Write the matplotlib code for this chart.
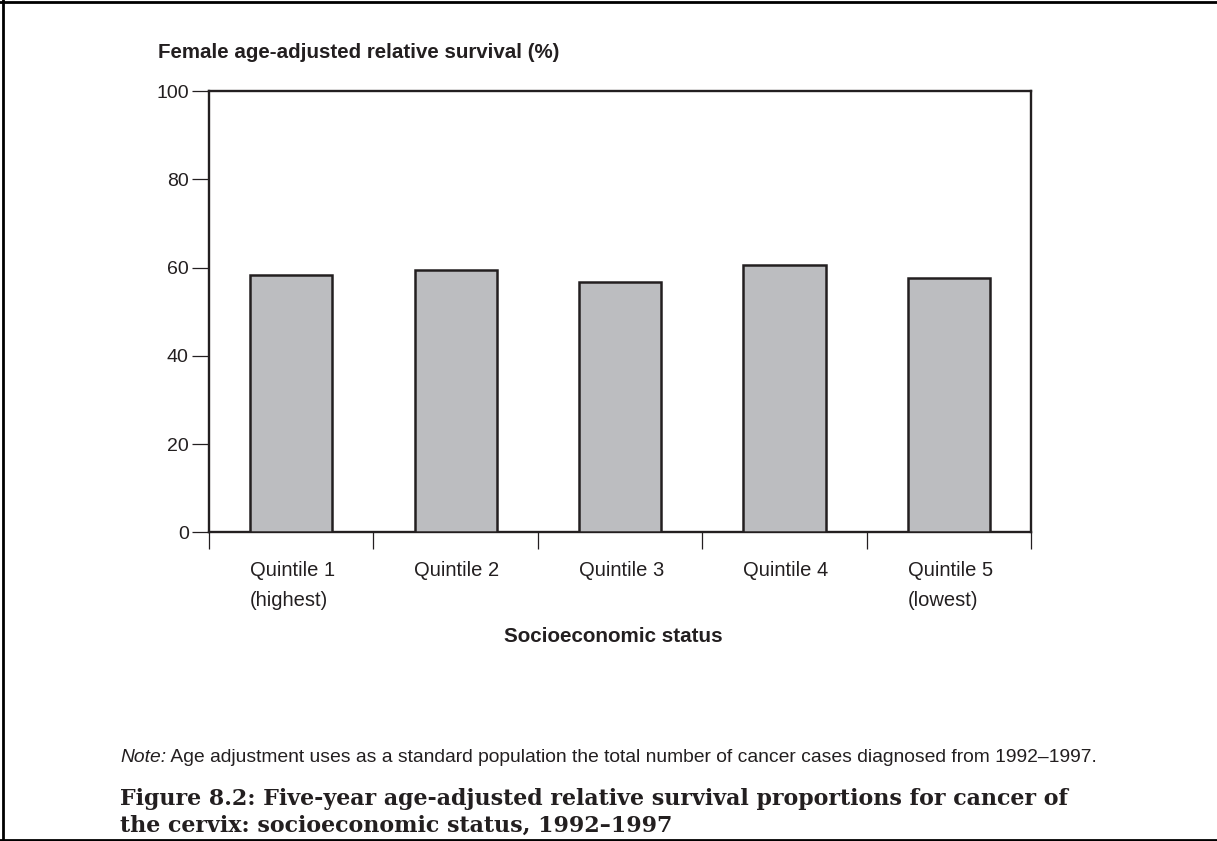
import matplotlib
matplotlib.use("Agg")
import matplotlib.pyplot as plt
from matplotlib.lines import Line2D

plt.rcParams['font.family'] = ['Liberation Sans', 'DejaVu Sans']

categories = ["Quintile 1\n(highest)", "Quintile 2", "Quintile 3", "Quintile 4", "Quintile 5\n(lowest)"]
values = [58.3, 59.4, 56.8, 60.5, 57.7]
yticks = [0, 20, 40, 60, 80, 100]

ylabel = "Female age-adjusted relative survival (%)"
xlabel = "Socioeconomic status"
note_lead = "Note:"
note_rest = " Age adjustment uses as a standard population the total number of cancer cases diagnosed from 1992\u20131997."
title = ("Figure 8.2: Five-year age-adjusted relative survival proportions for cancer of\n"
         "the cervix: socioeconomic status, 1992\u20131997")

W, H = 1217, 841
fig = plt.figure(figsize=(W / 100, H / 100), dpi=100)
dark = "#231f20"

ax = fig.add_axes([209 / W, 1 - 532.3 / H, (1031 - 209) / W, (532.3 - 91) / H])
bw = 0.5
xs = list(range(len(values)))
ax.bar(xs, values, width=bw, color="#bcbdc0", edgecolor=dark, linewidth=1.8, zorder=3)

ax.set_xlim(-0.5, len(values) - 0.5)
ax.set_ylim(0, 100)
for s in ax.spines.values():
    s.set_color(dark)
    s.set_linewidth(1.7)

ax.set_yticks(yticks)
ax.set_yticklabels([str(v) for v in yticks], fontsize=14, color=dark)
ax.tick_params(axis='y', length=12, width=0.9, color=dark, pad=2.5)

# category labels left-aligned at bar left edges
ax.set_xticks([x - bw / 2 for x in xs])
ax.set_xticklabels(categories, fontsize=14.5, color=dark, ha='left', linespacing=1.75)
ax.tick_params(axis='x', which='major', length=0, pad=20.5)
ax.set_xticks([x - 0.5 for x in xs] + [len(values) - 0.5], minor=True)
ax.tick_params(axis='x', which='minor', length=12, width=0.9, color=dark, direction='out')

fig.text(158 / W, 1 - 52.5 / H, ylabel, fontsize=14.8, fontweight='bold', color=dark,
         ha='left', va='center')
fig.text(613 / W, 1 - 637 / H, xlabel, fontsize=14.9, fontweight='bold', color=dark,
         ha='center', va='center')

t1 = fig.text(120 / W, 1 - 757 / H, note_lead, fontsize=13.9, style='italic', color=dark,
              ha='left', va='center')
fig.canvas.draw()
bb = t1.get_window_extent()
fig.text(bb.x1 / W, 1 - 757 / H, note_rest, fontsize=13.9, color=dark, ha='left', va='center')

fig.text(120 / W, 1 - 812.5 / H, title, fontsize=15.9, fontweight='bold', family='DejaVu Serif',
         color=dark, ha='left', va='center', linespacing=1.3)

# outer frame (left, top, bottom)
fig.add_artist(Line2D([3 / W, 3 / W], [0, 1], transform=fig.transFigure, color='black', lw=2))
fig.add_artist(Line2D([0, 1], [1 - 2 / H, 1 - 2 / H], transform=fig.transFigure, color='black', lw=2))
fig.add_artist(Line2D([0, 1], [1 - 839.5 / H, 1 - 839.5 / H], transform=fig.transFigure, color='black', lw=2))

fig.savefig("out.png", dpi=100)
